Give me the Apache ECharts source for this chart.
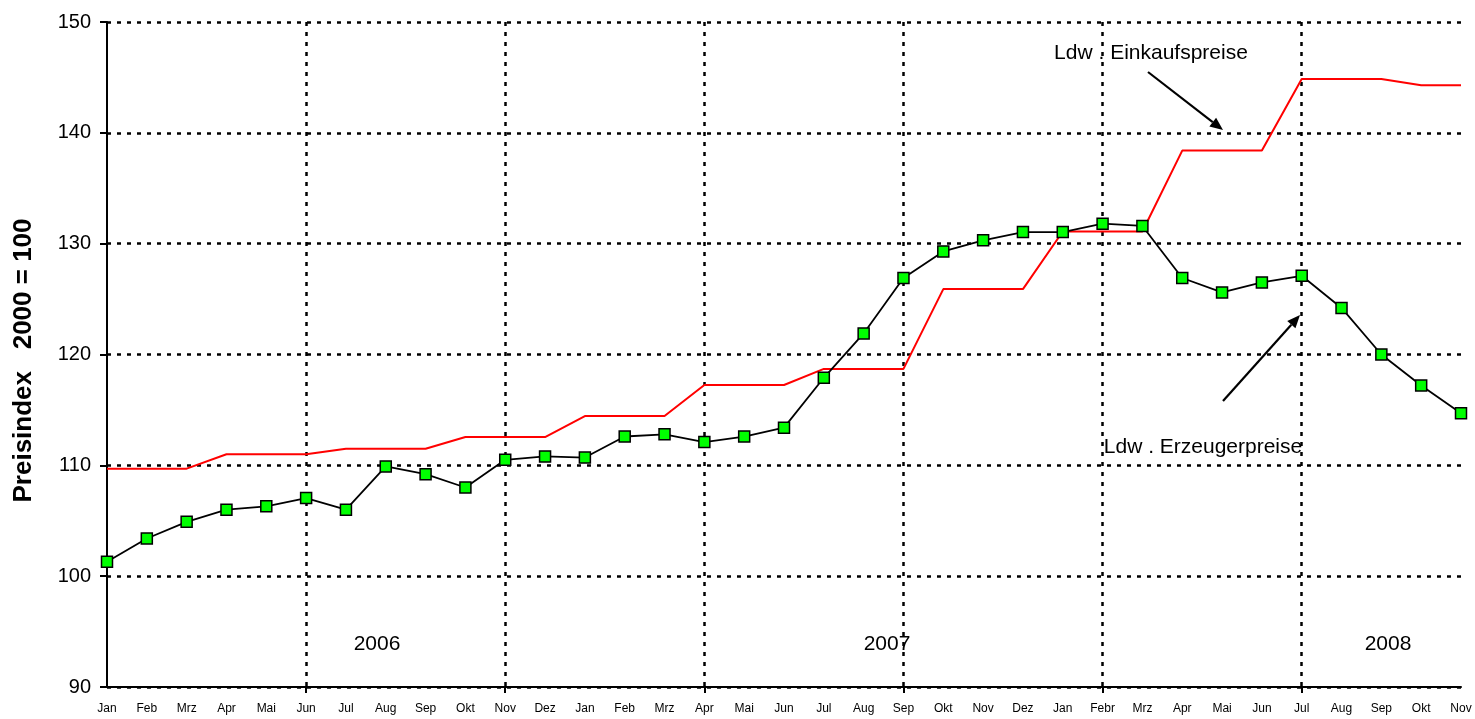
<!DOCTYPE html>
<html>
<head>
<meta charset="utf-8">
<script src="https://cdn.jsdelivr.net/npm/echarts@6/dist/echarts.min.js"></script>
<style>
html,body{margin:0;padding:0;background:#fff;}
#c{width:1475px;height:719px;}
</style>
</head>
<body>
<div id="c"></div>
<script>
const months = ['Jan','Feb','Mrz','Apr','Mai','Jun','Jul','Aug','Sep','Okt','Nov','Dez',
                'Jan','Feb','Mrz','Apr','Mai','Jun','Jul','Aug','Sep','Okt','Nov','Dez',
                'Jan','Febr','Mrz','Apr','Mai','Jun','Jul','Aug','Sep','Okt','Nov'];
const categories = months.map((m,i)=> m + '|' + i);
const erzeuger = [101.3,103.4,104.9,106.0,106.3,107.05,106.0,109.9,109.2,108.0,110.5,110.8,
                  110.7,112.6,112.8,112.1,112.6,113.4,117.9,121.9,126.9,129.3,130.3,131.05,
                  131.05,131.8,131.6,126.9,125.6,126.5,127.1,124.2,120.0,117.2,114.7];
const einkauf = [109.7,109.7,109.7,111.0,111.0,111.0,111.5,111.5,111.5,112.55,112.55,112.55,
                 114.45,114.45,114.45,117.25,117.25,117.25,118.7,118.7,118.7,125.9,125.9,125.9,
                 131.1,131.1,131.1,138.4,138.4,138.4,144.85,144.85,144.85,144.3,144.3];
const yearLabels = ['2006','2007','2008'];
const seriesNames = ['Ldw . Einkaufspreise','Ldw . Erzeugerpreise'];
const yTitle = 'Preisindex   2000 = 100';

const FONT = '"Liberation Sans", Arial, sans-serif';
const chart = echarts.init(document.getElementById('c'), null, {renderer:'canvas'});

function arrow(x1,y1,x2,y2){
  const ang = Math.atan2(y2-y1,x2-x1);
  const L = 13, W = 5.5;
  const bx = x2 - L*Math.cos(ang), by = y2 - L*Math.sin(ang);
  const px = -Math.sin(ang)*W, py = Math.cos(ang)*W;
  return [
    {type:'line', shape:{x1:x1,y1:y1,x2:bx,y2:by}, style:{stroke:'#000',lineWidth:2.2}, z:10},
    {type:'polygon', shape:{points:[[x2,y2],[bx+px,by+py],[bx-px,by-py]]}, style:{fill:'#000'}, z:10}
  ];
}
function txt(x,y,t,size){
  return {type:'text', x:x, y:y, style:{text:t, font: size+'px '+FONT, fill:'#000',
          align:'center', verticalAlign:'middle'}, z:10};
}

const option = {
  backgroundColor:'#fff',
  animation:false,
  grid:{left:107,right:14,top:22,bottom:32,containLabel:false,outerBoundsMode:'none'},
  xAxis:{
    type:'category',
    data:categories,
    boundaryGap:false,
    axisLine:{show:true,lineStyle:{color:'#000',width:2}},
    axisTick:{show:true,interval:(i)=> i%5===0 && i>0,length:6,inside:false,lineStyle:{color:'#000',width:2}},
    axisLabel:{interval:0,margin:16,color:'#000',fontSize:12,fontFamily:FONT,
               formatter:(v)=> v.split('|')[0]},
    splitLine:{show:true,interval:(i)=> i%5===0 && i>0,
               lineStyle:{color:'#000',width:2.5,type:[4,6]}}
  },
  yAxis:{
    type:'value',
    min:90,max:150,interval:10,
    name:yTitle,
    nameLocation:'middle',
    nameRotate:90,
    nameGap:70,
    nameTextStyle:{fontSize:26,fontWeight:'bold',color:'#000',fontFamily:FONT,padding:[0,12,0,0]},
    axisLine:{show:true,lineStyle:{color:'#000',width:2}},
    axisTick:{show:true,length:7,inside:false,lineStyle:{color:'#000',width:2}},
    axisLabel:{margin:16,color:'#000',fontSize:20,fontFamily:FONT},
    splitLine:{show:true,lineStyle:{color:'#000',width:2.5,type:[4,6]}}
  },
  series:[
    {name:seriesNames[0],type:'line',data:einkauf,symbol:'none',
     lineStyle:{color:'#ff0000',width:2},itemStyle:{color:'#ff0000'},z:3},
    {name:seriesNames[1],type:'line',data:erzeuger,symbol:'rect',symbolSize:11,
     lineStyle:{color:'#000',width:1.8},
     itemStyle:{color:'#00ff00',borderColor:'#000',borderWidth:1.5},z:4}
  ],
  graphic:[
    txt(1151,53,seriesNames[0],21),
    txt(1203,447,seriesNames[1],21),
    txt(377,644,yearLabels[0],21),
    txt(887,644,yearLabels[1],21),
    txt(1388,644,yearLabels[2],21),
    ...arrow(1148,72,1223,130),
    ...arrow(1223,401,1300,315)
  ]
};
chart.setOption(option);
</script>
</body>
</html>
